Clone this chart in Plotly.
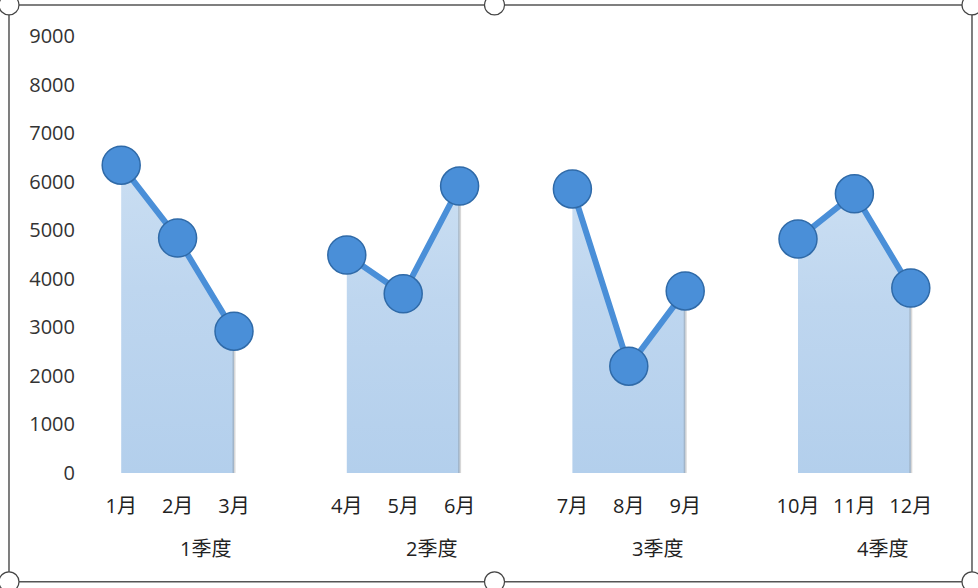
import plotly.graph_objects as go

months = ["1月", "2月", "3月", "4月", "5月", "6月", "7月", "8月", "9月", "10月", "11月", "12月"]
values = [6340, 4840, 2920, 4490, 3690, 5910, 5850, 2200, 3750, 4820, 5750, 3810]
quarters = ["1季度", "2季度", "3季度", "4季度"]
y_ticks = [0, 1000, 2000, 3000, 4000, 5000, 6000, 7000, 8000, 9000]

# category slots: each quarter = 3 months + one blank slot
pos = [q * 4 + m for q in range(4) for m in range(3)]
q_center = [q * 4 + 1.5 for q in range(4)]

FONT = "Open Sans, Noto Sans CJK SC"
BLUE = "#4a8fd8"
EDGE = "#2f6aa8"

fig = go.Figure()
for q in range(4):
    xs = pos[q * 3:(q + 1) * 3]
    ys = values[q * 3:(q + 1) * 3]
    fig.add_trace(go.Scatter(
        x=xs, y=ys, mode="none", fill="tozeroy",
        fillgradient=dict(type="vertical",
                          colorscale=[[0, "#b3cfec"], [0.6, "#bed6ef"], [1, "#cadef2"]]),
        hoverinfo="skip", showlegend=False))
    # soft shadow at the right edge of each area
    fig.add_trace(go.Scatter(
        x=[xs[-1], xs[-1]], y=[0, ys[-1]], mode="lines",
        line=dict(color="rgba(110,110,110,0.28)", width=3),
        hoverinfo="skip", showlegend=False))
for q in range(4):
    xs = pos[q * 3:(q + 1) * 3]
    ys = values[q * 3:(q + 1) * 3]
    fig.add_trace(go.Scatter(
        x=xs, y=ys, mode="lines+markers",
        line=dict(color=BLUE, width=6),
        marker=dict(size=38, color=BLUE, line=dict(color=EDGE, width=1.5)),
        cliponaxis=False, showlegend=False))

for q, label in enumerate(quarters):
    fig.add_annotation(x=q_center[q], y=-0.172, xref="x", yref="paper",
                       text=label, showarrow=False, yanchor="middle",
                       font=dict(family=FONT, size=20, color="#222"))

# chart frame with selection handles
fig.add_shape(type="rect", xref="paper", yref="paper",
              x0=-0.0993, x1=1.039, y0=-0.249, y1=1.071,
              line=dict(color="#555", width=1.5), fillcolor="rgba(0,0,0,0)", layer="below")
handles = [(-0.0993, 1.071), (0.4746, 1.071), (1.039, 1.071),
           (-0.0993, -0.249), (0.4746, -0.249), (1.039, -0.249)]
for hx, hy in handles:
    fig.add_shape(type="circle", xref="paper", yref="paper",
                  xsizemode="pixel", ysizemode="pixel", xanchor=hx, yanchor=hy,
                  x0=-10, x1=10, y0=-10, y1=10,
                  line=dict(color="#444", width=1.2), fillcolor="white")

fig.update_layout(
    width=978, height=588,
    margin=dict(l=93, r=39, t=36, b=115),
    paper_bgcolor="white", plot_bgcolor="white",
    font=dict(family=FONT, size=20, color="#222"),
    xaxis=dict(range=[-0.5, 14.5], tickvals=pos, ticktext=months,
               showgrid=False, zeroline=False, showline=False, ticks="",
               ticklabelstandoff=19, tickfont=dict(size=20)),
    yaxis=dict(range=[0, 9000], tickvals=y_ticks, showgrid=False, zeroline=False,
               showline=False, ticks="", ticklabelstandoff=17,
               tickfont=dict(size=20, color="#333")),
)

fig.write_html("out.html", config={"displayModeBar": False},
               post_script="document.body.style.margin='0';")
